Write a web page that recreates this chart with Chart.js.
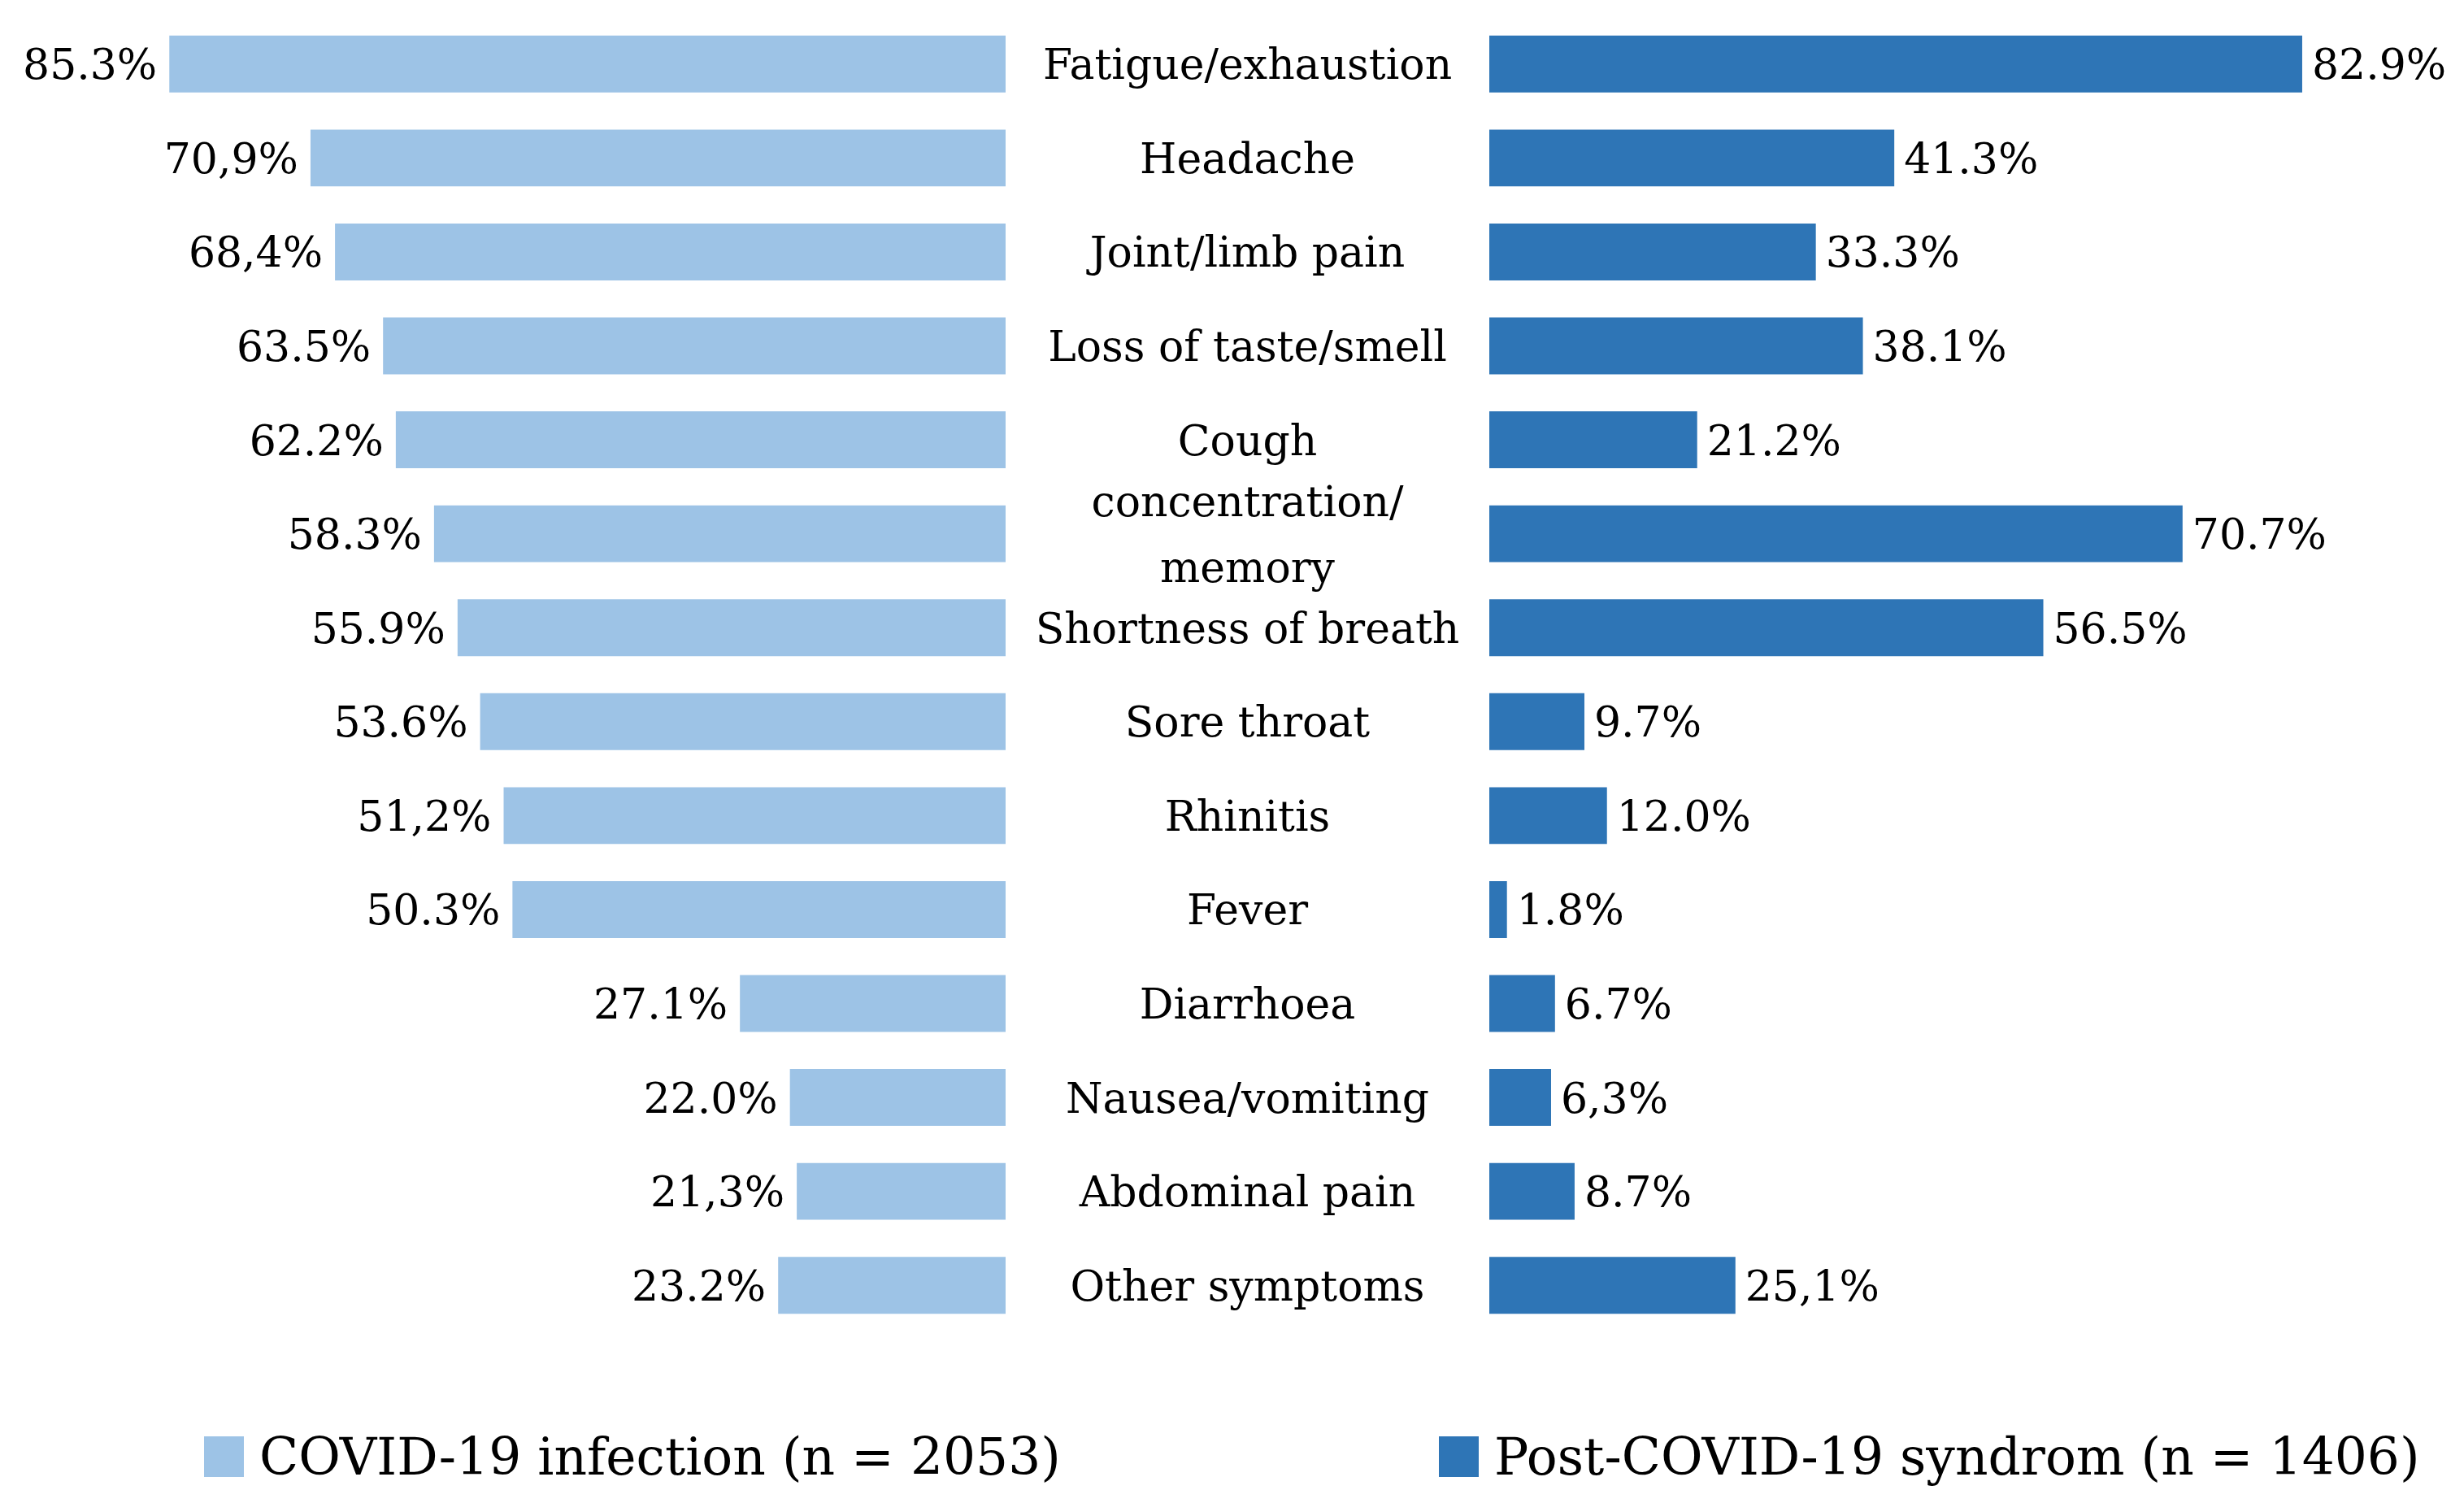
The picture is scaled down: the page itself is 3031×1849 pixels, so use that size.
<!DOCTYPE html>
<html>
<head>
<meta charset="utf-8">
<script src="https://cdn.jsdelivr.net/npm/chart.js@4.4.1/dist/chart.umd.min.js"></script>
<style>
  html, body { margin: 0; padding: 0; background: #ffffff; overflow: hidden; }
  #wrap { position: relative; width: 3031px; height: 1849px; }
  #chart { position: absolute; left: 0; top: 0; }
  .leg { position: absolute; top: 1767px; height: 50px; display: flex; align-items: center;
         font-family: "DejaVu Serif", serif; font-size: 63px; color: #000; white-space: nowrap; }
  .leg .box { width: 49px; height: 50px; margin-right: 19px; flex: none; }
</style>
</head>
<body>
<div id="wrap">
  <canvas id="chart" width="3031" height="1849"></canvas>
  <div id="legend"></div>
</div>
<script>
// ---- data ----
const categories = [
  "Fatigue/exhaustion", "Headache", "Joint/limb pain", "Loss of taste/smell", "Cough",
  ["concentration/", "memory"], "Shortness of breath", "Sore throat", "Rhinitis", "Fever",
  "Diarrhoea", "Nausea/vomiting", "Abdominal pain", "Other symptoms"
];
const infectionValues = [85.3, 70.9, 68.4, 63.5, 62.2, 58.3, 55.9, 53.6, 51.2, 50.3, 27.1, 22.0, 21.3, 23.2];
const infectionLabels = ["85.3%", "70,9%", "68,4%", "63.5%", "62.2%", "58.3%", "55.9%", "53.6%", "51,2%", "50.3%", "27.1%", "22.0%", "21,3%", "23.2%"];
const postValues = [82.9, 41.3, 33.3, 38.1, 21.2, 70.7, 56.5, 9.7, 12.0, 1.8, 6.7, 6.3, 8.7, 25.1];
const postLabels = ["82.9%", "41.3%", "33.3%", "38.1%", "21.2%", "70.7%", "56.5%", "9.7%", "12.0%", "1.8%", "6.7%", "6,3%", "8.7%", "25,1%"];
const seriesNames = ["COVID-19 infection (n = 2053)", "Post-COVID-19 syndrom (n = 1406)"];
const seriesColors = ["#9DC3E6", "#2E75B6"];

const FONT = '"DejaVu Serif", serif';
const TEXT_DY = 5;

// category labels drawn in the middle (gap) scale
const categoryLabelPlugin = {
  id: 'categoryLabels',
  afterDatasetsDraw(chart) {
    const ctx = chart.ctx;
    const yS = chart.scales.y;
    const mid = chart.scales.xM;
    const cx = (mid.left + mid.right) / 2;
    ctx.save();
    ctx.fillStyle = '#000';
    ctx.font = '52px ' + FONT;
    ctx.textAlign = 'center';
    ctx.textBaseline = 'middle';
    const lineH = 81;
    chart.data.labels.forEach((lab, i) => {
      const y = yS.getPixelForTick(i) + TEXT_DY;
      const lines = Array.isArray(lab) ? lab : [lab];
      const start = y - (lines.length - 1) * lineH / 2;
      lines.forEach((t, k) => ctx.fillText(t, cx, start + k * lineH));
    });
    ctx.restore();
  }
};

// value labels at bar ends
const valueLabelPlugin = {
  id: 'valueLabels',
  afterDatasetsDraw(chart) {
    const ctx = chart.ctx;
    ctx.save();
    ctx.fillStyle = '#000';
    ctx.font = '52px ' + FONT;
    ctx.textBaseline = 'middle';
    chart.data.datasets.forEach((ds, di) => {
      const meta = chart.getDatasetMeta(di);
      meta.data.forEach((el, i) => {
        const txt = ds.valueText[i];
        if (ds.side === 'left') {
          ctx.textAlign = 'right';
          ctx.fillText(txt, el.x - 15, el.y + TEXT_DY);
        } else {
          ctx.textAlign = 'left';
          ctx.fillText(txt, el.x + 12, el.y + TEXT_DY);
        }
      });
    });
    ctx.restore();
  }
};

const chart = new Chart(document.getElementById('chart'), {
  type: 'bar',
  data: {
    labels: categories,
    datasets: [
      {
        label: seriesNames[0], data: infectionValues, valueText: infectionLabels, side: 'left',
        backgroundColor: seriesColors[0], xAxisID: 'xL', yAxisID: 'y',
        grouped: false, barPercentage: 0.605, categoryPercentage: 1.0, borderWidth: 0
      },
      {
        label: seriesNames[1], data: postValues, valueText: postLabels, side: 'right',
        backgroundColor: seriesColors[1], xAxisID: 'xR', yAxisID: 'y',
        grouped: false, barPercentage: 0.605, categoryPercentage: 1.0, borderWidth: 0
      }
    ]
  },
  options: {
    indexAxis: 'y',
    responsive: false,
    devicePixelRatio: 1,
    animation: false,
    layout: { padding: { left: 31, right: 0, top: 21, bottom: 210 } },
    plugins: { legend: { display: false }, tooltip: { enabled: false } },
    scales: {
      y: { type: 'category', display: false, offset: true, grid: { display: false } },
      xL: { type: 'linear', position: 'bottom', stack: 'h', stackWeight: 1206, weight: 1,
            reverse: true, min: 0, max: 100, display: false, grid: { display: false } },
      xM: { type: 'linear', position: 'bottom', stack: 'h', stackWeight: 595, weight: 2,
            min: 0, max: 1, display: false, grid: { display: false } },
      xR: { type: 'linear', position: 'bottom', stack: 'h', stackWeight: 1199, weight: 3,
            min: 0, max: 99.4, display: false, grid: { display: false } }
    }
  },
  plugins: [categoryLabelPlugin, valueLabelPlugin]
});

// legend built from the chart's datasets
const legendLeft = [[251, 0], [1770, 1]];
const legendEl = document.getElementById('legend');
legendLeft.forEach(([x, di]) => {
  const ds = chart.data.datasets[di];
  const item = document.createElement('div');
  item.className = 'leg';
  item.style.left = x + 'px';
  const box = document.createElement('span');
  box.className = 'box';
  box.style.background = ds.backgroundColor;
  const txt = document.createElement('span');
  txt.textContent = ds.label;
  item.appendChild(box);
  item.appendChild(txt);
  legendEl.appendChild(item);
});
</script>
</body>
</html>
